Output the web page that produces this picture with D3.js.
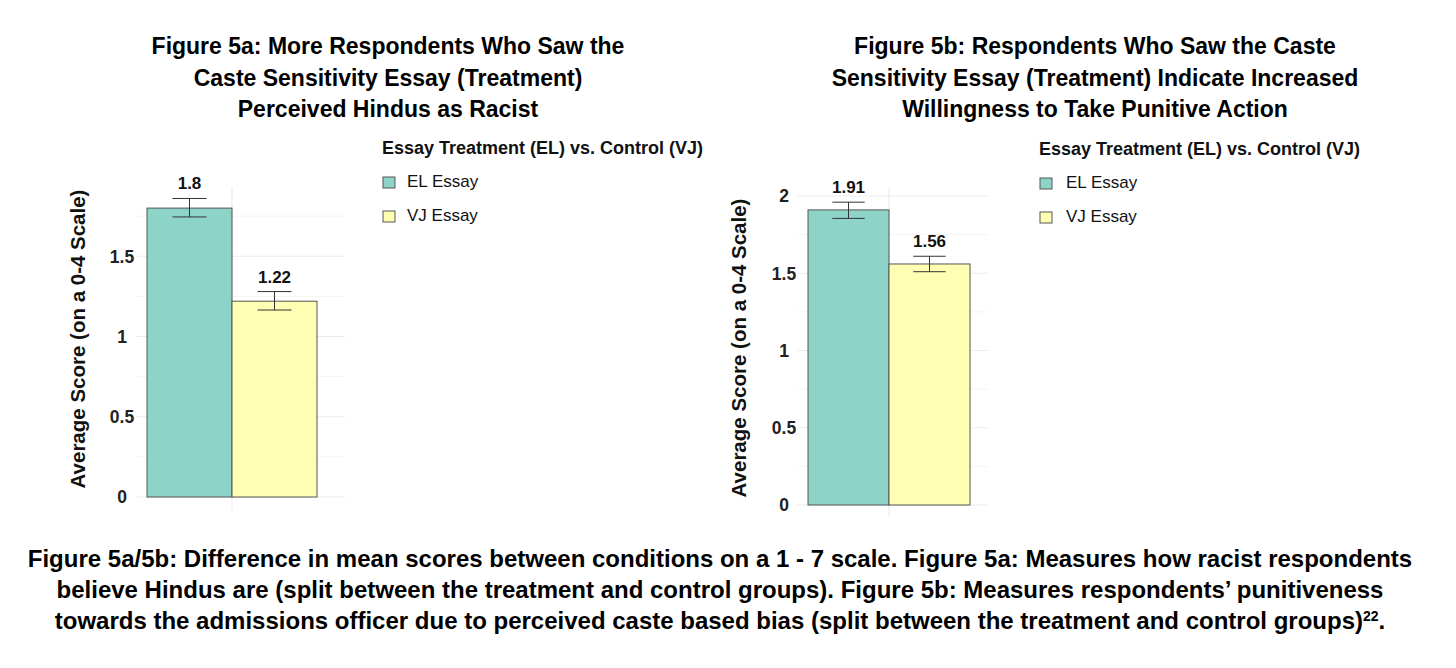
<!DOCTYPE html>
<html><head><meta charset="utf-8">
<script src="https://cdn.jsdelivr.net/npm/d3@7"></script>
<style>body{margin:0;background:#fff;} text{font-family:"Liberation Sans",Arial,sans-serif;}</style>
</head><body>
<svg id="c" width="1456" height="668"></svg>
<script>
const categories = ["EL Essay", "VJ Essay"];
const colors = ["#8DD3C7", "#FFFFB3"];
const valuesA = [1.80, 1.22];
const errLowA = [1.745, 1.165];
const errHighA = [1.86, 1.28];
const valuesB = [1.91, 1.56];
const errLowB = [1.855, 1.51];
const errHighB = [1.96, 1.61];
const ticksA = [0, 0.5, 1, 1.5];
const ticksB = [0, 0.5, 1, 1.5, 2];
const titleA = ["Figure 5a: More Respondents Who Saw the", "Caste Sensitivity Essay (Treatment)", "Perceived Hindus as Racist"];
const titleB = ["Figure 5b: Respondents Who Saw the Caste", "Sensitivity Essay (Treatment) Indicate Increased", "Willingness to Take Punitive Action"];
const legendTitle = "Essay Treatment (EL) vs. Control (VJ)";
const yTitle = "Average Score (on a 0-4 Scale)";
const caption = ["Figure 5a/5b: Difference in mean scores between conditions on a 1 - 7 scale. Figure 5a: Measures how racist respondents",
  "believe Hindus are (split between the treatment and control groups). Figure 5b: Measures respondents\u2019 punitiveness",
  "towards the admissions officer due to perceived caste based bias (split between the treatment and control groups)"];
const footnote = "22";

const svg = d3.select("#c");

function panel(o) {
  const g = svg.append("g");
  const y = d3.scaleLinear().domain([0, 1]).range([o.y0, o.y0 - o.unit]);
  const x = d3.scaleBand().domain(categories).range([o.bx0, o.bx1]).padding(0);
  const minor = d3.range(0.25, o.ymaxGrid, 0.5);
  g.selectAll(".mn").data(minor).join("line")
    .attr("x1", o.gx0).attr("x2", o.gx1).attr("y1", d => y(d)).attr("y2", d => y(d))
    .attr("stroke", "#f4f4f4").attr("stroke-width", 1);
  g.selectAll(".mj").data(o.ticks).join("line")
    .attr("x1", o.gx0).attr("x2", o.gx1).attr("y1", d => y(d)).attr("y2", d => y(d))
    .attr("stroke", "#ebebeb").attr("stroke-width", 1.2);
  g.append("line").attr("x1", x("VJ Essay")).attr("x2", x("VJ Essay"))
    .attr("y1", o.gy0).attr("y2", o.gy1).attr("stroke", "#ebebeb").attr("stroke-width", 1.2);
  g.selectAll(".bar").data(o.values).join("rect")
    .attr("x", (d, i) => x(categories[i])).attr("width", x.bandwidth())
    .attr("y", d => y(d)).attr("height", d => y(0) - y(d))
    .attr("fill", (d, i) => colors[i]).attr("stroke", "#555").attr("stroke-width", 1);
  const cw = x.bandwidth() * 0.4;
  o.values.forEach((v, i) => {
    const cx = x(categories[i]) + x.bandwidth() / 2;
    const e = g.append("g").attr("stroke", "#333").attr("stroke-width", 1);
    e.append("line").attr("x1", cx).attr("x2", cx).attr("y1", y(o.lo[i])).attr("y2", y(o.hi[i]));
    e.append("line").attr("x1", cx - cw / 2).attr("x2", cx + cw / 2).attr("y1", y(o.lo[i])).attr("y2", y(o.lo[i]));
    e.append("line").attr("x1", cx - cw / 2).attr("x2", cx + cw / 2).attr("y1", y(o.hi[i])).attr("y2", y(o.hi[i]));
    g.append("text").attr("x", cx).attr("y", y(o.hi[i]) - 9).attr("text-anchor", "middle")
      .attr("font-size", 17).attr("font-weight", "bold").attr("fill", "#111").text(v);
  });
  g.selectAll(".tk").data(o.ticks).join("text")
    .attr("x", o.tx).attr("y", d => y(d)).attr("dy", "0.36em").attr("text-anchor", "middle")
    .attr("font-size", 17.5).attr("font-weight", "bold").attr("fill", "#222").text(d => d);
  g.append("text").attr("transform", `translate(${o.yt[0]},${o.yt[1]}) rotate(-90)`)
    .attr("text-anchor", "middle").attr("dy", "0.35em").attr("font-size", 20.5).attr("font-weight", "bold")
    .attr("fill", "#111").text(yTitle);
  g.selectAll(".tt").data(o.title).join("text")
    .attr("x", o.titleX).attr("y", (d, i) => 54 + i * 31.5).attr("text-anchor", "middle")
    .attr("font-size", 23).attr("font-weight", "bold").attr("fill", "#000").text(d => d);
  const L = g.append("g");
  L.append("text").attr("x", o.lx).attr("y", o.ly).attr("font-size", 18).attr("font-weight", "bold")
    .attr("fill", "#111").text(legendTitle);
  categories.forEach((c, i) => {
    L.append("rect").attr("x", o.lx + 1).attr("y", o.ly + 23 + i * 34).attr("width", 12).attr("height", 11)
      .attr("fill", colors[i]).attr("stroke", "#555").attr("stroke-width", 1);
    L.append("text").attr("x", o.lx + o.lgap).attr("y", o.ly + 33 + i * 34).attr("font-size", 17)
      .attr("fill", "#111").text(c);
  });
}

panel({y0: 497, unit: 160.5, bx0: 147, bx1: 317, gx0: 137, gx1: 345, gy0: 187, gy1: 510, ymaxGrid: 1.9,
  values: valuesA, lo: errLowA, hi: errHighA, ticks: ticksA, tx: 122, yt: [78, 339],
  title: titleA, titleX: 388, lx: 382, ly: 154, lgap: 25});
panel({y0: 505, unit: 154.5, bx0: 808, bx1: 970, gx0: 797, gx1: 988, gy0: 188, gy1: 517, ymaxGrid: 2.05,
  values: valuesB, lo: errLowB, hi: errHighB, ticks: ticksB, tx: 784, yt: [739, 348],
  title: titleB, titleX: 1095, lx: 1039, ly: 155, lgap: 27});

const cap = svg.append("g");
cap.selectAll("text").data(caption).join("text")
  .attr("x", 720).attr("y", (d, i) => 567 + i * 31).attr("text-anchor", "middle")
  .attr("font-size", 24).attr("font-weight", "bold").attr("fill", "#000")
  .each(function(d, i) {
    const t = d3.select(this);
    t.append("tspan").text(d);
    if (i === caption.length - 1) {
      t.append("tspan").attr("dy", -8).attr("font-size", 14).text(footnote);
      t.append("tspan").attr("dy", 8).text(".");
    }
  });
</script>
</body></html>
